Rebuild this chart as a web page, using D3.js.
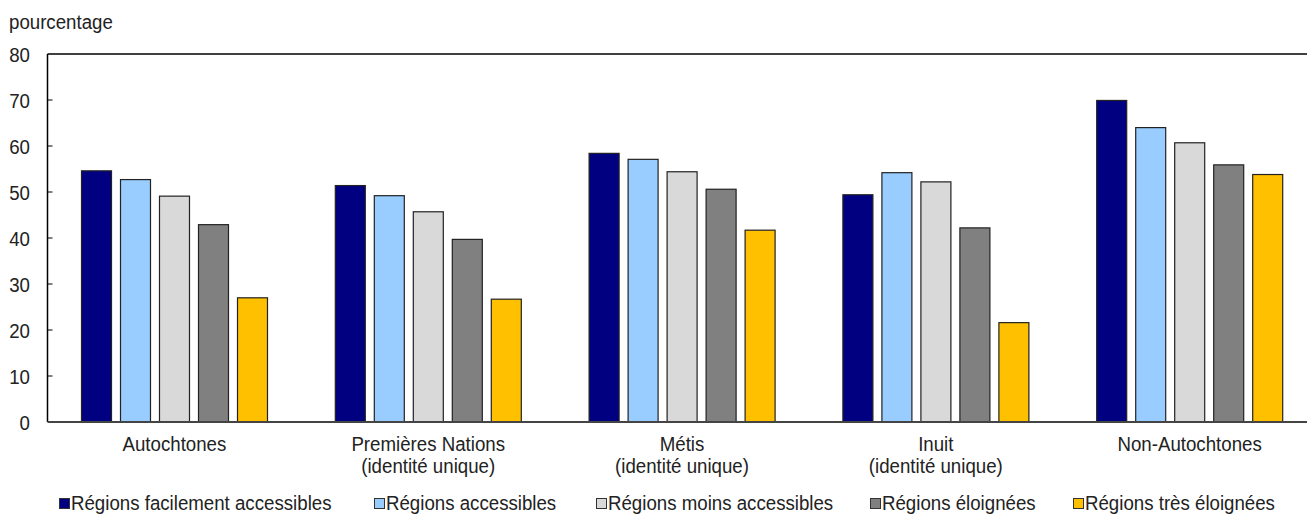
<!DOCTYPE html>
<html><head><meta charset="utf-8">
<script src="https://cdn.jsdelivr.net/npm/d3@7/dist/d3.min.js"></script>
<style>
html,body{margin:0;padding:0;background:#fff;}
svg text{font-family:"Liberation Sans",Arial,sans-serif;fill:#222;font-size:21px;}
</style></head>
<body><svg id="c" width="1307" height="514"></svg>
<script>
const categories = [["Autochtones"],["Premières Nations","(identité unique)"],["Métis","(identité unique)"],["Inuit","(identité unique)"],["Non-Autochtones"]];
const seriesNames = ["Régions facilement accessibles","Régions accessibles","Régions moins accessibles","Régions éloignées","Régions très éloignées"];
const facilementAccessibles = [54.6, 51.4, 58.4, 49.4, 69.9];
const accessibles = [52.7, 49.2, 57.1, 54.2, 64.0];
const moinsAccessibles = [49.1, 45.7, 54.4, 52.2, 60.7];
const eloignees = [42.9, 39.7, 50.6, 42.2, 55.9];
const tresEloignees = [27.0, 26.7, 41.7, 21.6, 53.8];
const yTicks = [0,10,20,30,40,50,60,70,80];
const yLabel = "pourcentage";

const seriesValues = [facilementAccessibles, accessibles, moinsAccessibles, eloignees, tresEloignees];
const colors = ["#000080","#99CCFF","#D9D9D9","#808080","#FFC000"];

const svg = d3.select("#c");
const L = 47.5, R = 1316.5, T = 54, B = 422;
const SX = 0.89;
const y = d3.scaleLinear().domain([0,80]).range([B,T]);
const catKeys = categories.map(c => c.join(" "));
const x0 = d3.scaleBand().domain(catKeys).range([L,R]).padding(0);
const x1 = d3.scaleBand().domain(seriesNames).range([33.5, 33.5+187]).paddingInner(8/39).paddingOuter(0);

function addText(x, yy, txt, anchor, dy) {
  const t = svg.append("text")
    .attr("transform", `translate(${x},${yy}) scale(${SX},1)`)
    .attr("text-anchor", anchor || "start")
    .text(txt);
  if (dy) t.attr("dy", dy);
  return t;
}

// frame
svg.append("line").attr("x1",L).attr("x2",R).attr("y1",T).attr("y2",T).attr("stroke","#000").attr("stroke-width",1.5);
svg.append("line").attr("x1",L).attr("x2",L).attr("y1",T).attr("y2",B).attr("stroke","#000").attr("stroke-width",1.5);

// y ticks
yTicks.forEach(t => {
  if (t>0 && t<80) svg.append("line").attr("x1",L).attr("x2",L+5).attr("y1",y(t)).attr("y2",y(t)).attr("stroke","#000").attr("stroke-width",1);
  addText(30, y(t), t, "end", "0.36em");
});
addText(9, 29, yLabel, "start");

// bars
const g = svg.append("g");
catKeys.forEach((k,i) => {
  seriesNames.forEach((s,j) => {
    const v = seriesValues[j][i];
    g.append("rect")
      .attr("x", x0(k)+x1(s)+0.5)
      .attr("y", y(v))
      .attr("width", x1.bandwidth()-1)
      .attr("height", y(0)-y(v))
      .attr("fill", colors[j])
      .attr("stroke","#222").attr("stroke-width",1.2);
  });
});

// baseline
svg.append("line").attr("x1",L).attr("x2",R).attr("y1",B).attr("y2",B).attr("stroke","#444").attr("stroke-width",2);

// category labels
categories.forEach((lines,i) => {
  const cx = x0(catKeys[i]) + x0.bandwidth()/2;
  lines.forEach((ln,k) => addText(cx, 451 + k*22, ln, "middle"));
});

// legend
const legendX = [59, 374, 596, 870, 1073];
seriesNames.forEach((s,j) => {
  svg.append("rect").attr("x",legendX[j]+0.5).attr("y",498.5).attr("width",10).attr("height",10).attr("fill",colors[j]).attr("stroke","#333").attr("stroke-width",1);
  addText(legendX[j]+12, 510, s, "start");
});
</script></body></html>
